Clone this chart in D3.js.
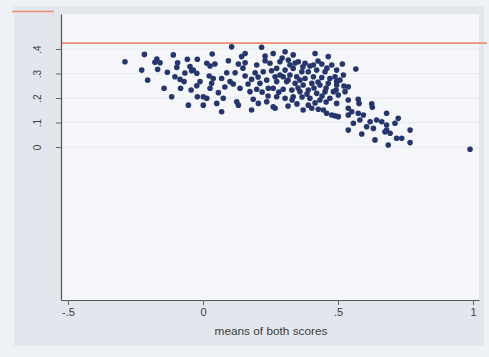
<!DOCTYPE html>
<html>
<head>
<meta charset="utf-8">
<script src="https://cdn.jsdelivr.net/npm/d3@7/dist/d3.min.js"></script>
<style>
  html, body { margin: 0; padding: 0; background: #eef1f5; }
  svg { display: block; }
  text { font-family: "Liberation Sans", Arial, sans-serif; fill: #3a3a3c; }
</style>
</head>
<body>
<svg id="chart" width="489" height="357"></svg>
<script>
// Difference vs. mean of both scores
const meanScores = [
  -0.289,-0.217,-0.171,-0.159,-0.178,-0.227,-0.168,-0.132,-0.205,-0.110,
  -0.094,-0.097,-0.058,-0.048,-0.036,-0.104,-0.085,-0.070,-0.144,-0.083,
  -0.044,-0.116,-0.054,-0.021,-0.023,-0.021, 0.034, 0.014, 0.026, 0.044,
  -0.042,-0.011,-0.023, 0.023, 0.038, 0.026, 0.001, 0.014, 0.001, 0.051,
   0.106, 0.217, 0.156, 0.143, 0.230, 0.260, 0.094, 0.131, 0.156, 0.199,
   0.230, 0.248, 0.088, 0.119, 0.193, 0.223, 0.254, 0.069, 0.032, 0.100,
   0.112, 0.180, 0.211, 0.236, 0.267, 0.057, 0.137, 0.174, 0.199, 0.242,
   0.075, 0.125, 0.131, 0.186, 0.205, 0.236, 0.069, 0.180, 0.260, 0.304,
   0.334, 0.415, 0.464, 0.285, 0.316, 0.353, 0.378, 0.409, 0.440, 0.477,
   0.273, 0.304, 0.334, 0.366, 0.390, 0.421, 0.452, 0.495, 0.297, 0.322,
   0.347, 0.378, 0.409, 0.440, 0.470, 0.489, 0.273, 0.310, 0.341, 0.371,
   0.403, 0.433, 0.464, 0.495, 0.260, 0.297, 0.329, 0.359, 0.390, 0.421,
   0.452, 0.483, 0.273, 0.304, 0.334, 0.396, 0.433, 0.470, 0.267, 0.371,
   0.403, 0.446, 0.477, 0.516, 0.566, 0.520, 0.495, 0.538, 0.526, 0.501,
   0.495, 0.538, 0.575, 0.578, 0.625, 0.627, 0.538, 0.551, 0.575, 0.594,
   0.501, 0.680, 0.643, 0.619, 0.662, 0.723, 0.557, 0.606, 0.631, 0.680,
   0.711, 0.538, 0.588, 0.674, 0.693, 0.767, 0.637, 0.717, 0.736, 0.686,
   0.767, 0.989, 0.581, 0.680, 0.390, 0.427, 0.458, 0.489, 0.538, 0.322,
   0.359, 0.426, 0.285, 0.456, 0.396, 0.081, 0.156,-0.067, 0.293, 0.341,
   0.370, 0.426, 0.459, 0.315, 0.352, 0.385, 0.411, 0.441, 0.493, 0.281,
   0.330, 0.367, 0.456, 0.507, 0.522, 0.415, 0.315, 0.219, 0.167, 0.204,
   0.148, 0.241, 0.348
];
const scoreDiffs = [
   0.348, 0.378, 0.359, 0.344, 0.346, 0.314, 0.317, 0.305, 0.273, 0.376,
   0.344, 0.325, 0.358, 0.328, 0.314, 0.287, 0.276, 0.267, 0.240, 0.240,
   0.233, 0.205, 0.171, 0.358, 0.301, 0.205, 0.380, 0.342, 0.331, 0.339,
   0.311, 0.267, 0.250, 0.290, 0.280, 0.240, 0.205, 0.199, 0.171, 0.178,
   0.409, 0.407, 0.382, 0.369, 0.371, 0.382, 0.352, 0.339, 0.344, 0.335,
   0.352, 0.342, 0.303, 0.303, 0.303, 0.307, 0.311, 0.280, 0.260, 0.267,
   0.257, 0.276, 0.260, 0.273, 0.287, 0.222, 0.240, 0.226, 0.236, 0.240,
   0.199, 0.185, 0.171, 0.195, 0.178, 0.185, 0.144, 0.151, 0.164, 0.389,
   0.376, 0.382, 0.369, 0.348, 0.355, 0.348, 0.342, 0.335, 0.339, 0.335,
   0.321, 0.314, 0.321, 0.307, 0.307, 0.314, 0.307, 0.314, 0.287, 0.294,
   0.287, 0.280, 0.287, 0.284, 0.280, 0.287, 0.267, 0.267, 0.260, 0.253,
   0.260, 0.253, 0.260, 0.253, 0.240, 0.236, 0.233, 0.226, 0.233, 0.219,
   0.226, 0.226, 0.205, 0.199, 0.205, 0.199, 0.192, 0.199, 0.158, 0.151,
   0.158, 0.151, 0.131, 0.339, 0.318, 0.294, 0.267, 0.246, 0.226, 0.212,
   0.178, 0.192, 0.195, 0.178, 0.176, 0.162, 0.158, 0.144, 0.138, 0.131,
   0.124, 0.138, 0.110, 0.103, 0.103, 0.117, 0.097, 0.083, 0.076, 0.090,
   0.097, 0.069, 0.053, 0.062, 0.056, 0.069, 0.029, 0.036, 0.036, 0.008,
   0.018,-0.009, 0.110, 0.069, 0.171, 0.154, 0.138, 0.127, 0.131, 0.335,
   0.273, 0.265, 0.294, 0.241, 0.331, 0.245, 0.290, 0.302, 0.363, 0.343,
   0.327, 0.351, 0.322, 0.273, 0.241, 0.216, 0.241, 0.208, 0.233, 0.224,
   0.192, 0.204, 0.184, 0.273, 0.249, 0.180, 0.167, 0.224, 0.257, 0.286,
   0.322, 0.208, 0.176
];
const xTicks = [-0.5, 0, 0.5, 1];
const xTickLabels = ["-.5", "0", ".5", "1"];
const yTicks = [0, 0.1, 0.2, 0.3, 0.4];
const yTickLabels = ["0", ".1", ".2", ".3", ".4"];
const referenceLevel = 0.424;
const xTitle = "means of both scores";

const points = meanScores.map((m, i) => ({ m, d: scoreDiffs[i] }));

const svg = d3.select("#chart");
const W = 489, H = 357;
const plot = { left: 61, right: 479, top: 14, bottom: 300 };

// page and graph-region backgrounds
svg.append("rect").attr("x", 0).attr("y", 0).attr("width", W).attr("height", H).attr("fill", "#eef1f5");
svg.append("rect").attr("x", 14).attr("y", 6).attr("width", 470).attr("height", 340).attr("fill", "#e3e7ed");
svg.append("rect").attr("x", plot.left).attr("y", plot.top)
  .attr("width", plot.right - plot.left).attr("height", plot.bottom - plot.top)
  .attr("fill", "#f4f6f9");

const x = d3.scaleLinear().domain([-0.5259, 1.0222]).range([plot.left, plot.right]);
const y = d3.scaleLinear().domain([-0.6245, 0.543]).range([plot.bottom, plot.top]);

// faint horizontal grid
svg.append("g").selectAll("line").data(yTicks).join("line")
  .attr("x1", plot.left + 1).attr("x2", plot.right)
  .attr("y1", d => y(d)).attr("y2", d => y(d))
  .attr("stroke", "#e7eaf0").attr("stroke-width", 1);

// reference line
svg.append("line")
  .attr("x1", plot.left).attr("x2", 487)
  .attr("y1", y(referenceLevel)).attr("y2", y(referenceLevel))
  .attr("stroke", "#ef8c6e").attr("stroke-width", 1.6);
svg.append("line")
  .attr("x1", 12).attr("x2", 54).attr("y1", 11.5).attr("y2", 11.5)
  .attr("stroke", "#ef8c6e").attr("stroke-width", 1.6);

// y axis
const yAxis = svg.append("g")
  .attr("transform", `translate(${plot.left},0)`)
  .call(d3.axisLeft(y).tickValues(yTicks).tickSize(5).tickSizeOuter(0)
    .tickFormat((d, i) => yTickLabels[i]));
yAxis.select(".domain").attr("stroke", "#555").attr("stroke-width", 1.2);
yAxis.selectAll(".tick line").attr("stroke", "#666");
yAxis.selectAll(".tick text")
  .attr("x", 0).attr("dy", null)
  .attr("transform", "translate(-20,0) rotate(-90)")
  .attr("text-anchor", "middle")
  .attr("font-size", 10)
  .style("fill", "#3a3a3c");

// x axis
const xAxis = svg.append("g")
  .attr("transform", `translate(0,${plot.bottom})`)
  .call(d3.axisBottom(x).tickValues(xTicks).tickSize(5).tickSizeOuter(0)
    .tickFormat((d, i) => xTickLabels[i]));
xAxis.select(".domain").attr("stroke", "#555").attr("stroke-width", 1.2);
xAxis.selectAll(".tick line").attr("stroke", "#666");
xAxis.selectAll(".tick text")
  .attr("y", 7).attr("dy", "0.85em")
  .attr("font-size", 11)
  .style("fill", "#3a3a3c");

svg.append("text")
  .attr("x", (plot.left + plot.right) / 2 + 1).attr("y", 335)
  .attr("text-anchor", "middle")
  .attr("font-size", 11.8)
  .text(xTitle);

// scatter
svg.append("g").selectAll("circle").data(points).join("circle")
  .attr("cx", p => x(p.m)).attr("cy", p => y(p.d))
  .attr("r", 2.8)
  .attr("fill", "#26366c");
</script>
</body>
</html>
